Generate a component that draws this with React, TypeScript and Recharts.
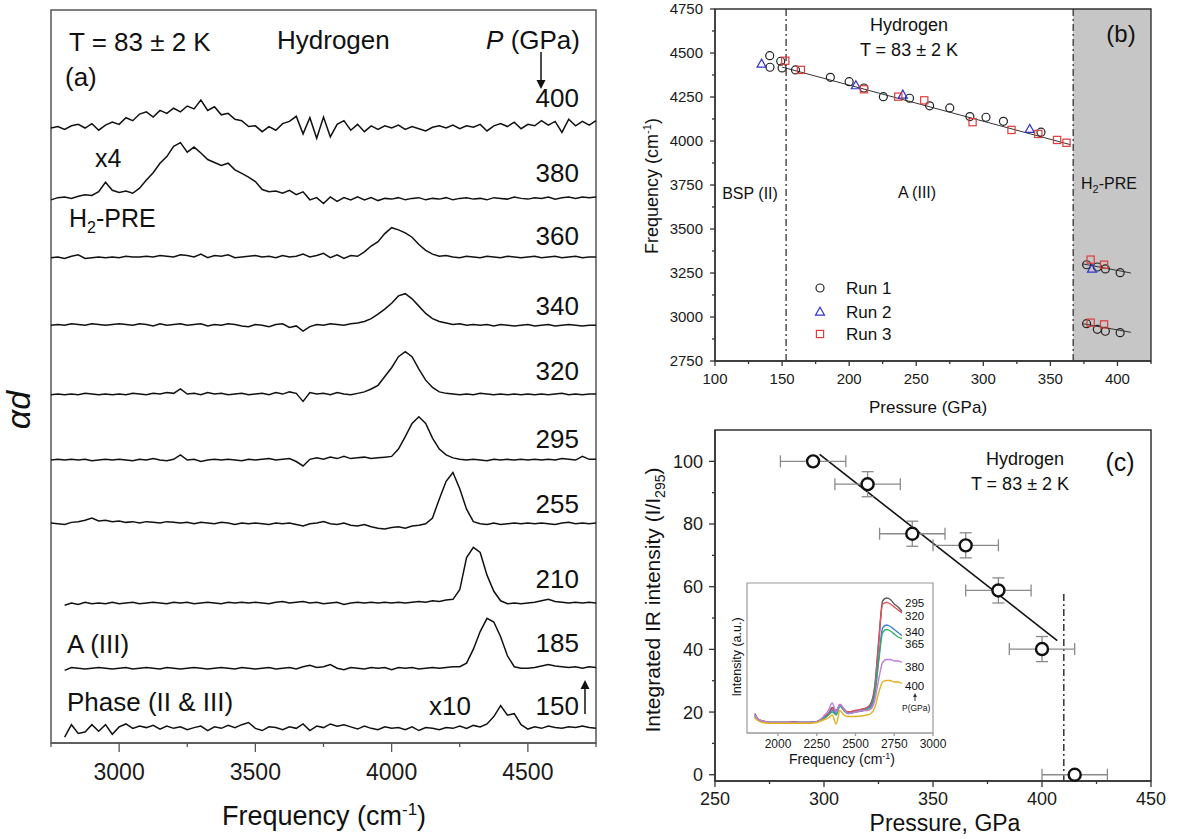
import React from "react";
import {
  LineChart,
  Line,
  ComposedChart,
  Scatter,
  XAxis,
  YAxis,
  ReferenceArea,
  ReferenceLine,
  ErrorBar,
} from "recharts";

const FONT = '"Liberation Sans", Arial, Helvetica, sans-serif';

// ---------- panel (a): stacked IR spectra ----------
const FREQ_A = [
  2750, 2775, 2800, 2825, 2850, 2875, 2900, 2925, 2950, 2975,
  3000, 3025, 3050, 3075, 3100, 3125, 3150, 3175, 3200, 3225,
  3250, 3275, 3300, 3325, 3350, 3375, 3400, 3425, 3450, 3475,
  3500, 3525, 3550, 3575, 3600, 3625, 3650, 3675, 3700, 3725,
  3750, 3775, 3800, 3825, 3850, 3875, 3900, 3925, 3950, 3975,
  4000, 4025, 4050, 4075, 4100, 4125, 4150, 4175, 4200, 4225,
  4250, 4275, 4300, 4325, 4350, 4375, 4400, 4425, 4450, 4475,
  4500, 4525, 4550, 4575, 4600, 4625, 4650, 4675, 4700, 4725,
  4750,
];

const PRESSURES_A = [400, 380, 360, 340, 320, 295, 255, 210, 185, 150];
// vertical offset of each trace in the stack (alpha*d units)
const STACK_OFFSET = [83.9, 74.2, 66.2, 57.0, 47.5, 38.6, 29.9, 19.1, 10.2, 2.0];

const S400 = [
  0, 0.2, -0.2, 0.3, 0.5, 0.0, 0.6, -0.3, 0.4, 0.8,
  0.5, 1.4, 1.0, 1.9, 2.2, 1.5, 2.4, 2.0, 2.7, 2.2,
  3.0, 2.6, 3.8, 2.4, 2.9, 1.8, 2.0, 1.2, 1.0, 0.2,
  0.3, -0.5, 0.2, -0.3, 0.6, 0.9, 1.6, -0.8, 1.4, -1.4,
  1.5, -1.2, 0.5, 1.0, -0.3, 0.5, -0.5, 0.3, -0.2, 0.3,
  0.0, 0.4, -0.2, 0.2, -0.1, -0.4, 0.1, 0.3, 0.0, 0.4,
  -0.1, 0.3, 0.1, 0.5, -0.4, 0.3, 0.6, 0.2, 0.8, -0.1,
  0.5, 0.3, 1.0, 0.4, 0.9, -0.6, 1.2, 0.3, 0.9, 0.4,
  1.0,
];
const S380 = [
  -0.1, 0.2, 0.3, 0.1, 0.4, 0.6, 0.5, 1.0, 2.3, 1.2,
  0.9, 1.1, 0.8, 1.5, 2.6, 3.6, 4.9, 5.8, 7.2, 7.7,
  6.4, 7.1, 6.3, 5.4, 5.0, 4.6, 4.9, 4.0, 3.5, 3.0,
  2.4, 1.3, 1.0, 1.1, 0.8, 1.2, 0.6, 1.0, -0.1, 0.2,
  -0.6, 0.3, -0.3, 0.2, -0.1, 0.3, -0.1, 0.2, -0.2, 0.1,
  0.0, 0.2, -0.1, 0.1, 0.2, -0.1, 0.1, 0.0, 0.2, -0.1,
  0.1, 0.2, 0.0, 0.1, -0.1, 0.2, 0.1, 0.0, 0.3, 0.1,
  0.0, 0.2, 0.1, 0.3, 0.0, 0.2, 0.3, 0.1, 0.3, 0.2,
  0.3,
];
const S360 = [
  0.0, 0.1, -0.1, 0.2, 0.4, -0.1, 0.0, 0.1, 0.0, 0.1,
  0.0, 0.2, 0.1, 0.1, 0.2, 0.1, 0.3, 0.2, 0.1, 0.4,
  0.3, 0.1, 0.5, 0.0, 0.3, 0.2, 0.4, 0.0, 0.1, 0.2,
  0.3, 0.1, 0.2, 0.0, 0.3, 0.1, 0.2, 0.5, 0.1, 0.3,
  0.6, 0.0, 0.4, -0.1, 0.3, 0.2, 0.8, 1.6, 2.2, 3.3,
  4.1, 3.8, 3.4, 2.8, 1.8, 1.0, 0.5, 0.2, 0.3, 0.1,
  0.0, 0.2, 0.1, 0.0, 0.2, 0.1, 0.0, 0.2, 0.1, 0.0,
  0.1, 0.2, 0.0, 0.1, 0.2, 0.0, 0.1, 0.2, 0.0, 0.1,
  0.1,
];
const S340 = [
  0.0, 0.1, 0.0, 0.2, 0.1, 0.0, 0.2, 0.1, 0.0, 0.1,
  0.2, 0.1, 0.0, 0.2, 0.1, -0.1, 0.2, 0.0, 0.1, 0.2,
  0.0, 0.1, 0.2, -0.1, 0.1, 0.0, 0.2, 0.1, -0.1, -0.2,
  0.1, 0.0, -0.2, 0.1, 0.2, -0.3, -0.1, -0.8, -0.2, 0.1,
  0.0, 0.2, 0.1, 0.0, 0.2, 0.3, 0.5, 0.9, 1.5, 2.2,
  3.0, 4.0, 4.3, 3.6, 2.6, 1.6, 0.9, 0.5, 0.3, 0.1,
  0.2, 0.0, 0.1, 0.0, 0.1, -0.1, 0.1, 0.0, -0.1, 0.0,
  0.1, -0.1, 0.0, 0.1, -0.1, 0.0, 0.1, 0.0, -0.1, 0.0,
  0.0,
];
const S320 = [
  0.0, 0.1, 0.0, 0.1, 0.0, 0.2, 0.1, 0.0, 0.1, 0.0,
  0.1, 0.0, 0.2, 0.1, 0.0, 0.2, 0.1, 0.3, 0.2, 0.8,
  0.1, 0.2, 0.0, 0.3, 0.1, 0.2, 0.0, 0.1, 0.2, 0.0,
  0.1, 0.2, 0.0, 0.3, 0.1, 0.4, 0.2, -0.9, 0.3, 0.1,
  0.2, 0.0, 0.3, 0.1, 0.0, 0.2, 0.4, 0.8, 1.3, 2.5,
  3.7, 5.2, 5.9, 5.2, 3.5, 2.0, 1.0, 0.4, 0.2, 0.1,
  0.0, 0.1, 0.0, 0.2, 0.1, 0.0, 0.1, 0.0, 0.1, 0.0,
  0.1, 0.0, 0.1, 0.0, 0.1, 0.2, 0.0, 0.1, 0.0, 0.1,
  0.1,
];
const S295 = [
  0.0, 0.1, 0.0, 0.1, 0.0, 0.1, -0.1, 0.0, 0.1, 0.0,
  0.1, 0.0, -0.1, 0.1, 0.0, 0.2, 0.0, -0.1, 0.1, 0.7,
  0.0, 0.1, -0.2, 0.0, 0.1, 0.0, 0.1, 0.0, -0.1, 0.1,
  0.0, 0.1, 0.2, 0.0, 0.1, 0.2, -0.2, -0.8, 0.1, 0.3,
  0.1, 0.4, 0.2, 0.5, 0.2, 0.3, 0.4, 0.2, 0.3, 0.4,
  0.5, 1.5, 3.2, 5.0, 5.9, 5.0, 3.0, 1.5, 0.7, 0.3,
  0.1, 0.0, 0.1, 0.0, -0.1, 0.1, 0.0, 0.1, 0.0, 0.1,
  0.0, 0.1, 0.0, 0.1, 0.0, 0.2, 0.1, 0.0, 0.5, 0.1,
  0.1,
];
const S255 = [
  0.1, 0.0, -0.1, 0.2, 0.3, 0.5, 0.8, 0.4, 0.5, 0.3,
  0.4, 0.2, 0.3, 0.1, 0.3, 0.2, 0.1, 0.3, 0.2, 0.1,
  0.2, 0.0, 0.2, 0.1, 0.0, 0.2, 0.1, -0.1, 0.1, 0.0,
  0.1, 0.0, -0.1, 0.1, 0.0, 0.1, -0.1, -0.3, 0.0, 0.1,
  0.3, 0.0, -0.1, 0.1, -0.2, -0.3, -0.1, -0.4, -0.6, -0.7,
  -0.5, -0.4, -0.6, -0.3, -0.2, 0.0, 0.8, 3.4, 5.8, 7.0,
  4.8, 2.0, 0.3, 0.0, -0.1, 0.1, -0.1, 0.0, 0.1, 0.0,
  0.1, 0.0, 0.1, 0.0, -0.1, 0.1, 0.2, 0.0, 0.1, 0.0,
  0.1,
];
const S210 = [
  null, null, -0.3, 0.0, -0.2, 0.1, -0.1, 0.0, -0.1, 0.1,
  -0.1, 0.0, 0.1, -0.1, 0.0, 0.1, 0.0, -0.1, 0.1, 0.0,
  0.1, -0.1, 0.0, 0.1, 0.0, -0.1, 0.1, 0.0, 0.1, 0.0,
  0.1, 0.0, -0.1, 0.1, 0.2, 0.0, 0.1, 0.2, 0.0, 0.1,
  -0.1, 0.0, 0.1, -0.2, 0.0, 0.1, 0.0, 0.1, 0.0, 0.1,
  0.0, 0.1, 0.0, 0.1, 0.2, 0.1, 0.3, 0.2, 0.4, 0.5,
  1.8, 6.2, 7.6, 6.9, 3.8, 1.6, 0.3, -0.1, 0.0, -0.1,
  0.0, 0.1, 0.3, 0.5, 0.2, 0.1, 0.0, 0.1, 0.0, 0.1,
  0.0,
];
const S185 = [
  null, null, -0.3, 0.1, 0.0, -0.1, 0.0, 0.1, 0.0, -0.1,
  0.0, 0.1, -0.1, 0.0, 0.1, 0.0, -0.1, 0.1, 0.0, -0.1,
  0.0, 0.1, 0.0, -0.1, 0.0, 0.1, 0.0, -0.1, 0.1, 0.0,
  -0.1, 0.0, 0.1, -0.1, 0.0, 0.1, -0.1, 0.2, 0.4, 0.1,
  0.2, 0.5, 0.0, -0.2, 0.1, 0.0, -0.1, 0.1, 0.0, 0.1,
  -0.2, 0.1, 0.0, 0.1, -0.1, 0.0, 0.1, 0.0, 0.1, 0.2,
  0.2, 0.7, 2.6, 5.0, 6.8, 6.3, 4.3, 1.7, 0.2, 0.0,
  0.0, 0.1, 0.3, 0.5, 0.3, 0.2, 0.1, 0.2, 0.0, 0.2,
  0.1,
];
const S150 = [
  null, null, -1.2, 0.5, -0.7, -0.5, 0.5, -0.4, 0.5, -0.8,
  0.2, 0.6, 0.0, 0.3, 0.1, 0.4, -0.1, 0.3, 0.0, 0.2,
  -0.2, 0.1, 0.3, -0.3, 0.2, 0.0, 0.4, 0.1, 0.5, 0.8,
  0.0, -0.3, 0.2, 0.1, -0.2, 0.2, 0.0, 0.6, -0.3, 0.3,
  0.1, 0.6, 0.3, 0.5, 0.2, -0.1, 0.3, 0.0, -0.2, 0.2,
  0.0, 0.1, -0.2, 0.2, -0.3, 0.1, 0.0, -0.2, 0.1, 0.0,
  0.3, 0.0, 0.4, 0.2, 0.6, 1.6, 3.1, 1.8, 2.0, 0.5,
  -0.1, 0.2, 0.0, 0.3, 0.1, 0.0, 0.2, 0.1, 0.3, 0.1,
  0.0,
];
const SPECTRA_A = [S400, S380, S360, S340, S320, S295, S255, S210, S185, S150];

const A_MAJOR = [3000, 3500, 4000, 4500];
const A_MINOR = [2750, 3250, 3750, 4250, 4750];

// ---------- panel (b): peak frequency vs pressure ----------
const RUN1_P = [140.8, 141, 149, 150, 160, 186, 200, 211, 225.5, 245, 260, 275, 290, 302, 315, 343, 377, 385, 391, 402, 377, 385, 391, 402];
const RUN1_F = [4485, 4419, 4453, 4415, 4404, 4362, 4337, 4301, 4252, 4243, 4200, 4188, 4139, 4135, 4112, 4050, 3297, 3284, 3273, 3252, 2962, 2930, 2919, 2911];
const RUN2_P = [134.7, 205, 240, 334.6, 381];
const RUN2_F = [4438, 4315, 4262, 4067, 3273];
const RUN3_P = [152.4, 164, 211, 236.6, 256, 292, 321, 341, 355, 362, 380, 390, 380, 390];
const RUN3_F = [4456, 4404, 4294, 4252, 4231, 4107, 4063, 4040, 4006, 3990, 3326, 3297, 2968, 2958];
const FIT_B_P = [150, 365];
const FIT_B_F = [4420, 3979];
const PRE_HI_P = [374, 410];
const PRE_HI_F = [3302, 3250];
const PRE_LO_P = [374, 410];
const PRE_LO_F = [2962, 2913];
const B_PHASE_LINES = [153, 367];

const B_X_MAJOR = [100, 150, 200, 250, 300, 350, 400];
const B_X_MINOR = [125, 175, 225, 275, 325, 375, 425];
const B_Y_MAJOR = [2750, 3000, 3250, 3500, 3750, 4000, 4250, 4500, 4750];
const B_Y_MINOR = [2875, 3125, 3375, 3625, 3875, 4125, 4375, 4625];

// ---------- panel (c): integrated intensity ----------
const C_P = [295, 320, 340.5, 365, 380, 400, 415];
const C_I = [100, 92.7, 76.9, 73.2, 58.8, 40.1, 0];
const C_P_ERR = [15, 15, 15, 15, 15, 15, 15];
const C_I_ERR = [0, 4, 4, 4, 4, 4, 0];
const FIT_C_P = [298, 407];
const FIT_C_I = [102.2, 42.8];
const C_BOUND_P = [410, 410];
const C_BOUND_I = [-2, 57.7];

const C_X_MAJOR = [250, 300, 350, 400, 450];
const C_X_MINOR = [275, 325, 375, 425];
const C_Y_MAJOR = [0, 20, 40, 60, 80, 100];
const C_Y_MINOR = [10, 30, 50, 70, 90];

// ---------- inset of (c) ----------
const FREQ_IN = [1850, 1875, 1900, 1950, 2000, 2050, 2100, 2150, 2200, 2250, 2275, 2300, 2325, 2350, 2375, 2400, 2425, 2450, 2500, 2550, 2575, 2600, 2625, 2650, 2675, 2700, 2725, 2750, 2775, 2800];
const IN_295 = [13, 9, 8, 7, 7, 7, 7.5, 7, 7, 7.5, 9, 11, 13, 17, 15, 19, 16, 14, 15, 16, 17, 20, 32, 62, 88, 90, 89, 86, 84, 81];
const IN_320 = [12, 9, 8, 7, 7, 7, 7.5, 7, 7, 7.5, 9, 11, 13, 16, 14, 19, 16, 14, 15, 16, 17, 19, 30, 60, 86, 87, 86, 84, 82, 80];
const IN_340 = [11, 8.5, 7.5, 7, 7, 7, 7, 7, 7, 7.5, 8.5, 10, 12, 15, 13, 18, 15, 13, 14, 15, 16, 18, 27, 50, 70, 72, 71, 69, 67, 65];
const IN_365 = [11, 8.5, 7.5, 7, 7, 7, 7, 7, 7, 7.5, 8.5, 10, 12, 14, 12, 18, 15, 13, 14, 15, 16, 17, 26, 48, 67, 69, 68, 66, 64, 63];
const IN_380 = [12, 9, 8, 7, 7, 7, 7, 7, 7, 7.5, 9, 12, 15, 20, 14, 19, 16, 13, 14, 15, 15, 16, 22, 36, 47, 49, 49, 48, 48, 47];
const IN_400 = [10, 8, 7, 6.5, 6.5, 6.5, 6.5, 6.5, 6.5, 7, 8, 9, 10, 12, 6, 15, 12, 11, 11, 11.5, 12, 13, 17, 27, 34, 35, 35, 34, 34, 33];
const INSET_KEYS = ["295", "320", "340", "365", "380", "400"];
const INSET_SERIES = [IN_295, IN_320, IN_340, IN_365, IN_380, IN_400];
const INSET_COLORS = ["#5a5a5a", "#e2505c", "#3d7fd9", "#3aa86b", "#c47be0", "#e0b020"];
const IN_X_MAJOR = [2000, 2250, 2500, 2750, 3000];

// ---------- build tables ----------
const specRows = FREQ_A.map((f, i) => {
  const row: Record<string, number | null> = { f };
  PRESSURES_A.forEach((p, k) => {
    const v = SPECTRA_A[k][i];
    row["p" + p] = v == null ? null : STACK_OFFSET[k] + v;
  });
  return row;
});

const zipB = (ps: number[], fs: number[]) => ps.map((p, i) => ({ p, f: fs[i] }));
const run1 = zipB(RUN1_P, RUN1_F);
const run2 = zipB(RUN2_P, RUN2_F);
const run3 = zipB(RUN3_P, RUN3_F);
const fitB = zipB(FIT_B_P, FIT_B_F);
const preHi = zipB(PRE_HI_P, PRE_HI_F);
const preLo = zipB(PRE_LO_P, PRE_LO_F);

const cPoints = C_P.map((p, i) => ({ p, v: C_I[i], pe: C_P_ERR[i], ve: C_I_ERR[i] }));
const fitC = FIT_C_P.map((p, i) => ({ p, v: FIT_C_I[i] }));
const boundC = C_BOUND_P.map((p, i) => ({ p, v: C_BOUND_I[i] }));

const insetRows = FREQ_IN.map((f, i) => {
  const row: Record<string, number> = { f };
  INSET_KEYS.forEach((k, j) => (row["s" + k] = INSET_SERIES[j][i]));
  return row;
});

const sortNum = (a: number[]) => [...a].sort((x, y) => x - y);

type TickOpts = {
  side: "bottom" | "left";
  majors: number[];
  major: number;
  minor: number;
  fs: number;
  off: number;
  color: string;
};

const makeTick = (o: TickOpts) => (props: any) => {
  const { x, y, payload } = props;
  const v = payload.value;
  const isMaj = o.majors.indexOf(v) >= 0;
  const len = isMaj ? o.major : o.minor;
  if (o.side === "bottom") {
    return (
      <g>
        <line x1={x} y1={y} x2={x} y2={y + len} stroke={o.color} strokeWidth={1.3} />
        {isMaj ? (
          <text x={x} y={y + o.off} textAnchor="middle" fontSize={o.fs} fill="#1a1a1a" fontFamily={FONT}>
            {v}
          </text>
        ) : null}
      </g>
    );
  }
  return (
    <g>
      <line x1={x - len} y1={y} x2={x} y2={y} stroke={o.color} strokeWidth={1.3} />
      {isMaj ? (
        <text x={x - len - o.off} y={y + o.fs * 0.36} textAnchor="end" fontSize={o.fs} fill="#1a1a1a" fontFamily={FONT}>
          {v}
        </text>
      ) : null}
    </g>
  );
};

const circleShape = (props: any) => (
  <circle cx={props.cx} cy={props.cy} r={4} fill="none" stroke="#222" strokeWidth={1.2} />
);
const triShape = (props: any) => {
  const { cx, cy } = props;
  return (
    <path
      d={`M${cx},${cy - 4.8} L${cx + 4.5},${cy + 3.2} L${cx - 4.5},${cy + 3.2} Z`}
      fill="none"
      stroke="#3434c8"
      strokeWidth={1.2}
    />
  );
};
const squareShape = (props: any) => (
  <rect x={props.cx - 3.6} y={props.cy - 3.6} width={7.2} height={7.2} fill="none" stroke="#e03a3a" strokeWidth={1.2} />
);
const bigCircle = (props: any) => (
  <circle cx={props.cx} cy={props.cy} r={6} fill="#fff" stroke="#111" strokeWidth={2.4} />
);

const DASHDOT = "7 3 2 3";

const Annotations = () => (
  <svg
    width={1178}
    height={839}
    style={{ position: "absolute", left: 0, top: 0, pointerEvents: "none" }}
    fontFamily={FONT}
    fill="#111"
  >
    {/* panel (a) */}
    <text x={69} y={51} fontSize={26}>T = 83 ± 2 K</text>
    <text x={277} y={49} fontSize={26}>Hydrogen</text>
    <text x={580} y={49} fontSize={26} textAnchor="end">
      <tspan fontStyle="italic">P</tspan> (GPa)
    </text>
    <text x={65} y={86} fontSize={26}>(a)</text>
    <line x1={541} y1={52} x2={541} y2={82} stroke="#111" strokeWidth={1.5} />
    <path d="M536.5,80 L545.5,80 L541,89 Z" fill="#111" />
    {[
      ["400", 107], ["380", 182], ["360", 245], ["340", 315], ["320", 380],
      ["295", 448], ["255", 513], ["210", 588], ["185", 652], ["150", 715],
    ].map(([t, y]) => (
      <text key={t as string} x={579} y={y as number} fontSize={26} textAnchor="end">{t}</text>
    ))}
    <line x1={585} y1={714} x2={585} y2={687} stroke="#111" strokeWidth={1.5} />
    <path d="M580.5,689 L589.5,689 L585,680 Z" fill="#111" />
    <text x={95} y={167} fontSize={25}>x4</text>
    <text x={69} y={227} fontSize={25}>
      H<tspan dy={6} fontSize={16}>2</tspan><tspan dy={-6}>-PRE</tspan>
    </text>
    <text x={67} y={653} fontSize={26}>A (III)</text>
    <text x={67} y={711} fontSize={26}>Phase (II &amp; III)</text>
    <text x={429} y={715} fontSize={26}>x10</text>
    <text x={324} y={825} fontSize={27} textAnchor="middle">
      Frequency (cm<tspan dy={-10} fontSize={17}>-1</tspan><tspan dy={10}>)</tspan>
    </text>
    <text x={30} y={410} fontSize={34} fontStyle="italic" textAnchor="middle" transform="rotate(-90 30 410)">
      αd
    </text>

    {/* panel (b) */}
    <text x={909} y={31} fontSize={18} textAnchor="middle">Hydrogen</text>
    <text x={909} y={56} fontSize={18} textAnchor="middle">T = 83 ± 2 K</text>
    <text x={1121} y={42} fontSize={24} textAnchor="middle">(b)</text>
    <text x={750} y={199} fontSize={16} textAnchor="middle">BSP (II)</text>
    <text x={917} y={198} fontSize={16} textAnchor="middle">A (III)</text>
    <text x={1081} y={189} fontSize={16}>
      H<tspan dy={4} fontSize={11}>2</tspan><tspan dy={-4}>-PRE</tspan>
    </text>
    <circle cx={820} cy={288} r={4} fill="none" stroke="#222" strokeWidth={1.2} />
    <path d="M820,307.2 L824.5,315.2 L815.5,315.2 Z" fill="none" stroke="#3434c8" strokeWidth={1.2} />
    <rect x={816.4} y={330.4} width={7.2} height={7.2} fill="none" stroke="#e03a3a" strokeWidth={1.2} />
    <text x={846} y={294} fontSize={17}>Run 1</text>
    <text x={846} y={318} fontSize={17}>Run 2</text>
    <text x={846} y={340} fontSize={17}>Run 3</text>
    <text x={658} y={186} fontSize={18} textAnchor="middle" transform="rotate(-90 658 186)">
      Frequency (cm<tspan dy={-7} fontSize={11}>-1</tspan><tspan dy={7}>)</tspan>
    </text>
    <text x={928} y={413} fontSize={17} textAnchor="middle">Pressure (GPa)</text>

    {/* panel (c) */}
    <text x={1025} y={465} fontSize={18} textAnchor="middle">Hydrogen</text>
    <text x={1020} y={490} fontSize={18} textAnchor="middle">T = 83 ± 2 K</text>
    <text x={1120} y={471} fontSize={25} textAnchor="middle">(c)</text>
    <text x={660} y={600} fontSize={21} textAnchor="middle" transform="rotate(-90 660 600)">
      Integrated IR intensity (I/I<tspan dy={5} fontSize={14}>295</tspan><tspan dy={-5}>)</tspan>
    </text>
    <text x={945} y={831} fontSize={23} textAnchor="middle">Pressure, GPa</text>

    {/* inset */}
    {[
      ["295", 607], ["320", 620], ["340", 636], ["365", 648], ["380", 671], ["400", 690],
    ].map(([t, y]) => (
      <text key={"in" + t} x={905} y={y as number} fontSize={11.5}>{t}</text>
    ))}
    <line x1={915} y1={701} x2={915} y2={696} stroke="#333" strokeWidth={1} />
    <path d="M913,697 L917,697 L915,693 Z" fill="#333" />
    <text x={902} y={711} fontSize={8.5}>P(GPa)</text>
    <text x={741} y={657} fontSize={12.5} textAnchor="middle" transform="rotate(-90 741 657)">
      Intensity (a.u.)
    </text>
    <text x={842} y={764} fontSize={14} textAnchor="middle">
      Frequency (cm<tspan dy={-5} fontSize={9}>-1</tspan><tspan dy={5}>)</tspan>
    </text>
  </svg>
);

export default function App() {
  const aTicks = sortNum([...A_MAJOR, ...A_MINOR]);
  const bxTicks = sortNum([...B_X_MAJOR, ...B_X_MINOR]);
  const byTicks = sortNum([...B_Y_MAJOR, ...B_Y_MINOR]);
  const cxTicks = sortNum([...C_X_MAJOR, ...C_X_MINOR]);
  const cyTicks = sortNum([...C_Y_MAJOR, ...C_Y_MINOR]);

  return (
    <div
      style={{
        position: "absolute",
        left: 0,
        top: 0,
        width: 1178,
        height: 839,
        background: "#fff",
        fontFamily: FONT,
        overflow: "hidden",
      }}
    >
      {/* (a) spectra */}
      <div style={{ position: "absolute", left: 0, top: 0 }}>
        <LineChart width={620} height={839} data={specRows} margin={{ top: 10, right: 24, left: 51, bottom: 66 }}>
          <XAxis
            type="number"
            dataKey="f"
            domain={[2750, 4750]}
            ticks={aTicks}
            interval={0}
            height={30}
            tickSize={0}
            tickMargin={0}
            tickLine={false}
            axisLine={{ stroke: "#555", strokeWidth: 1.5 }}
            tick={makeTick({ side: "bottom", majors: A_MAJOR, major: 9, minor: 4, fs: 23, off: 37, color: "#555" })}
          />
          <YAxis hide domain={[0, 100]} />
          <ReferenceArea x1={2750} x2={4750} y1={0} y2={100} fill="none" stroke="#555" strokeWidth={1.5} />
          {PRESSURES_A.map((p) => (
            <Line
              key={p}
              dataKey={"p" + p}
              type="linear"
              stroke="#111"
              strokeWidth={1.5}
              dot={false}
              isAnimationActive={false}
            />
          ))}
        </LineChart>
      </div>

      {/* (b) frequency vs pressure */}
      <div style={{ position: "absolute", left: 620, top: 0 }}>
        <ComposedChart width={558} height={420} margin={{ top: 9, right: 27, left: 35, bottom: 29 }}>
          <XAxis
            type="number"
            dataKey="p"
            domain={[100, 425]}
            ticks={bxTicks}
            interval={0}
            height={30}
            tickSize={0}
            tickMargin={0}
            tickLine={false}
            axisLine={{ stroke: "#333", strokeWidth: 1.4 }}
            tick={makeTick({ side: "bottom", majors: B_X_MAJOR, major: 5, minor: 3, fs: 15, off: 23, color: "#333" })}
          />
          <YAxis
            type="number"
            dataKey="f"
            domain={[2750, 4750]}
            ticks={byTicks}
            interval={0}
            width={60}
            tickSize={0}
            tickMargin={0}
            tickLine={false}
            axisLine={{ stroke: "#333", strokeWidth: 1.4 }}
            tick={makeTick({ side: "left", majors: B_Y_MAJOR, major: 5, minor: 3, fs: 15, off: 7, color: "#333" })}
          />
          <ReferenceArea x1={367} x2={425} y1={2750} y2={4750} fill="#c6c6c6" fillOpacity={1} stroke="none" />
          <ReferenceArea x1={100} x2={425} y1={2750} y2={4750} fill="none" stroke="#333" strokeWidth={1.4} />
          {B_PHASE_LINES.map((x) => (
            <ReferenceLine key={x} x={x} stroke="#333" strokeWidth={1.3} strokeDasharray={DASHDOT} />
          ))}
          <Line data={fitB} dataKey="f" type="linear" stroke="#333" strokeWidth={1} dot={false} isAnimationActive={false} />
          <Line data={preHi} dataKey="f" type="linear" stroke="#333" strokeWidth={1} dot={false} isAnimationActive={false} />
          <Line data={preLo} dataKey="f" type="linear" stroke="#333" strokeWidth={1} dot={false} isAnimationActive={false} />
          <Scatter data={run1} shape={circleShape} isAnimationActive={false} />
          <Scatter data={run2} shape={triShape} isAnimationActive={false} />
          <Scatter data={run3} shape={squareShape} isAnimationActive={false} />
        </ComposedChart>
      </div>

      {/* (c) integrated intensity */}
      <div style={{ position: "absolute", left: 620, top: 420 }}>
        <ComposedChart width={558} height={419} margin={{ top: 10, right: 27, left: 35, bottom: 28 }}>
          <XAxis
            type="number"
            dataKey="p"
            domain={[250, 450]}
            ticks={cxTicks}
            interval={0}
            height={30}
            tickSize={0}
            tickMargin={0}
            tickLine={false}
            axisLine={{ stroke: "#333", strokeWidth: 1.5 }}
            tick={makeTick({ side: "bottom", majors: C_X_MAJOR, major: 6, minor: 3, fs: 18, off: 24, color: "#333" })}
          />
          <YAxis
            type="number"
            dataKey="v"
            domain={[-2, 110]}
            ticks={cyTicks}
            interval={0}
            width={60}
            tickSize={0}
            tickMargin={0}
            tickLine={false}
            axisLine={{ stroke: "#333", strokeWidth: 1.5 }}
            tick={makeTick({ side: "left", majors: C_Y_MAJOR, major: 6, minor: 3, fs: 18, off: 6, color: "#333" })}
          />
          <ReferenceArea x1={250} x2={450} y1={-2} y2={110} fill="none" stroke="#333" strokeWidth={1.5} />
          <Line data={fitC} dataKey="v" type="linear" stroke="#111" strokeWidth={1.6} dot={false} isAnimationActive={false} />
          <Line
            data={boundC}
            dataKey="v"
            type="linear"
            stroke="#333"
            strokeWidth={1.5}
            strokeDasharray={DASHDOT}
            dot={false}
            isAnimationActive={false}
          />
          <Scatter data={cPoints} shape={bigCircle} isAnimationActive={false}>
            <ErrorBar dataKey="pe" direction="x" width={6} stroke="#8a8a8a" strokeWidth={1.3} />
            <ErrorBar dataKey="ve" direction="y" width={6} stroke="#8a8a8a" strokeWidth={1.3} />
          </Scatter>
        </ComposedChart>
      </div>

      {/* inset of (c) */}
      <div style={{ position: "absolute", left: 700, top: 575 }}>
        <LineChart width={260} height={200} data={insetRows} margin={{ top: 8, right: 27, left: 47, bottom: 22 }}>
          <ReferenceArea x1={1800} x2={3000} y1={0} y2={100} fill="#fff" fillOpacity={1} stroke="#9a9a9a" strokeWidth={1.2} />
          <XAxis
            type="number"
            dataKey="f"
            domain={[1800, 3000]}
            ticks={IN_X_MAJOR}
            interval={0}
            height={20}
            tickSize={0}
            tickMargin={0}
            tickLine={false}
            axisLine={{ stroke: "#9a9a9a", strokeWidth: 1.2 }}
            tick={makeTick({ side: "bottom", majors: IN_X_MAJOR, major: 3, minor: 2, fs: 12, off: 15, color: "#9a9a9a" })}
          />
          <YAxis hide domain={[0, 100]} />
          {INSET_KEYS.map((k, j) => (
            <Line
              key={k}
              dataKey={"s" + k}
              type="monotone"
              stroke={INSET_COLORS[j]}
              strokeWidth={1.4}
              dot={false}
              isAnimationActive={false}
            />
          ))}
        </LineChart>
      </div>

      <Annotations />
    </div>
  );
}
